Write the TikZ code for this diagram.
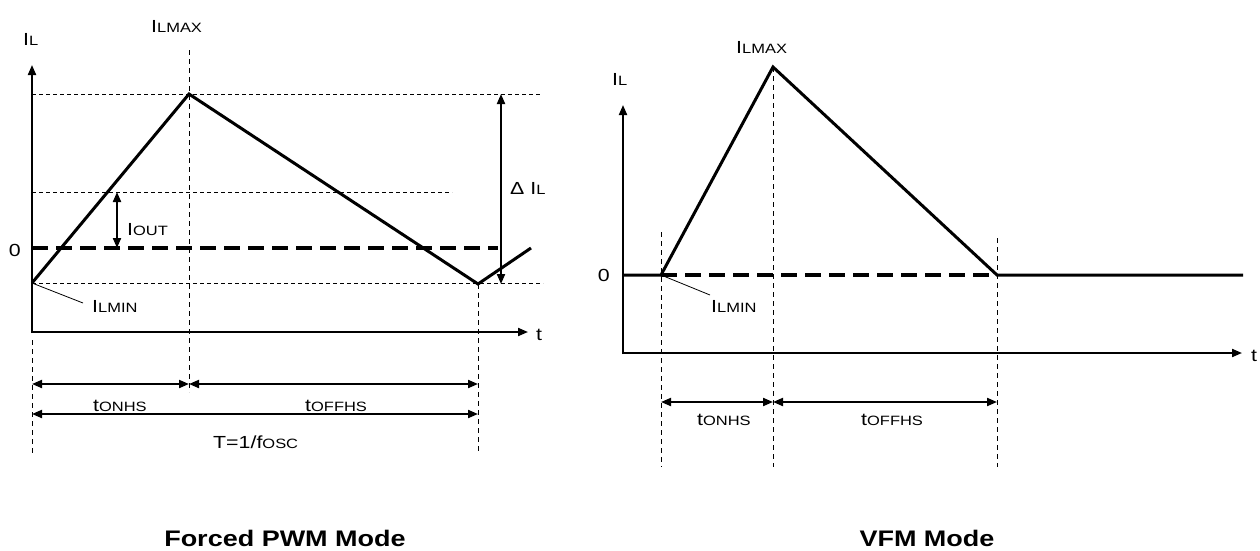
\documentclass[tikz,border=0pt]{standalone}
\usepackage{fontspec}
\setmainfont{Liberation Sans}
\usetikzlibrary{arrows.meta}
\newcommand\mainsz{\fontsize{17.5}{17.5}\selectfont}
\newcommand\subsz{\fontsize{13.5}{13.5}\selectfont}
\newcommand\lb[2]{\scalebox{1.22}[1]{{\mainsz #1}{\subsz #2}}}
\newcommand\ttl[1]{\scalebox{1.2}[1]{#1}}
\tikzset{
  wave/.style={line width=3pt, line join=miter},
  axis/.style={line width=2pt, -{Triangle[length=10pt,width=8pt]}},
  guide/.style={line width=0.9pt, dash pattern=on 4pt off 3pt},
  vguide/.style={line width=1pt, dash pattern=on 5pt off 4pt},
  zeroline/.style={line width=3.5pt, dash pattern=on 16pt off 8pt},
  dim/.style={line width=2pt, {Triangle[length=10pt,width=8pt]}-{Triangle[length=10pt,width=8pt]}},
  leader/.style={line width=0.8pt},
  lbl/.style={inner sep=0pt, anchor=base west},
  title/.style={inner sep=0pt, anchor=base, font=\bfseries\fontsize{22.5}{22.5}\selectfont}
}
\begin{document}
\begin{tikzpicture}[x=1pt,y=-1pt]
\useasboundingbox (0,0) rectangle (1260,550);
% ---------- Left: Forced PWM ----------
\coordinate (ya0) at (32,333);
\coordinate (ya1) at (32,65);
\coordinate (xa0) at (31,332);
\coordinate (xa1) at (528,332);
\coordinate (pmin) at (32,283);
\coordinate (pmax) at (189,94);
\coordinate (pmin2) at (478,284);
\coordinate (pend) at (531,248);
% guides
\coordinate (gt0) at (32,94);   \coordinate (gt1) at (542,94);
\coordinate (go0) at (32,192);  \coordinate (go1) at (452,192);
\coordinate (gm0) at (32,283);  \coordinate (gm1) at (543,283);
\coordinate (gz0) at (32,248);  \coordinate (gz1) at (498,248);
\coordinate (v1a) at (189,50);  \coordinate (v1b) at (189,392);
\coordinate (v0a) at (32,340);  \coordinate (v0b) at (32,453);
\coordinate (v2a) at (478,284); \coordinate (v2b) at (478,452);
\draw[guide] (gt0) -- (gt1);
\draw[guide] (go0) -- (go1);
\draw[guide] (gm0) -- (gm1);
\draw[zeroline] (gz0) -- (gz1);
\draw[vguide] (v1a) -- (v1b);
\draw[vguide] (v0a) -- (v0b);
\draw[vguide] (v2a) -- (v2b);
\draw[axis] (ya0) -- (ya1);
\draw[axis] (xa0) -- (xa1);
\draw[wave] (pmin) -- (pmax) -- (pmin2) -- (pend);
% dimension arrows
\coordinate (io0) at (117,192); \coordinate (io1) at (117,248);
\draw[dim] (io0) -- (io1);
\coordinate (dl0) at (501,94); \coordinate (dl1) at (501,284);
\draw[dim] (dl0) -- (dl1);
\coordinate (ld1) at (83,303);
\draw[leader] (pmin) -- (ld1);
\coordinate (b1a) at (32,384); \coordinate (b1b) at (189,384); \coordinate (b1c) at (478,384);
\coordinate (b2a) at (32,414); \coordinate (b2b) at (478,414);
\draw[dim] (b1a) -- (b1b);
\draw[dim] (b1b) -- (b1c);
\draw[dim] (b2a) -- (b2b);
% labels
\node[lbl] (lIL) at (23,45) {\lb{I}{L}};
\node[lbl] (lMAX) at (151,32) {\lb{I}{LMAX}};
\node[inner sep=0pt, anchor=base east] (l0) at (21,256) {\lb{0}{}};
\node[lbl] (lOUT) at (127,235) {\lb{I}{OUT}};
\node[lbl] (lMIN) at (92,312) {\lb{I}{LMIN}};
\node[lbl] (lDIL) at (510,194) {\lb{Δ I}{L}};
\node[lbl] (lt) at (536,340) {\lb{t}{}};
\node[lbl] (lon) at (93,411) {\lb{t}{ONHS}};
\node[lbl] (loff) at (305,411) {\lb{t}{OFFHS}};
\node[lbl] (lT) at (213,448) {\lb{T=1/f}{OSC}};
\node[title] (tl) at (285,546) {\ttl{Forced PWM Mode}};
% ---------- Right: VFM ----------
\coordinate (rya0) at (623,354);
\coordinate (rya1) at (623,105);
\coordinate (rxa0) at (622,353);
\coordinate (rxa1) at (1242,353);
\coordinate (r0) at (623,275);
\coordinate (r1) at (661,275);
\coordinate (rmax) at (773,67);
\coordinate (r2) at (997,275);
\coordinate (r3) at (1243,275);
\coordinate (w1a) at (661,232); \coordinate (w1b) at (661,467);
\coordinate (w2a) at (773,67);  \coordinate (w2b) at (773,467);
\coordinate (w3a) at (997,238); \coordinate (w3b) at (997,467);
\draw[vguide] (w1a) -- (w1b);
\draw[vguide] (w2a) -- (w2b);
\draw[vguide] (w3a) -- (w3b);
\draw[zeroline] (r1) -- (r2);
\draw[axis] (rya0) -- (rya1);
\draw[axis] (rxa0) -- (rxa1);
\draw[wave] (r0) -- (r1) -- (rmax) -- (r2) -- (r3);
\coordinate (rld) at (710,295);
\draw[leader] (r1) -- (rld);
\coordinate (rb1) at (661,402); \coordinate (rb2) at (773,402); \coordinate (rb3) at (997,402);
\draw[dim] (rb1) -- (rb2);
\draw[dim] (rb2) -- (rb3);
\node[lbl] (rIL) at (612,85) {\lb{I}{L}};
\node[lbl] (rMAX) at (736,53) {\lb{I}{LMAX}};
\node[inner sep=0pt, anchor=base east] (r0l) at (610,281) {\lb{0}{}};
\node[lbl] (rMIN) at (711,312) {\lb{I}{LMIN}};
\node[lbl] (rt) at (1251,361) {\lb{t}{}};
\node[lbl] (ron) at (697,425) {\lb{t}{ONHS}};
\node[lbl] (roff) at (861,425) {\lb{t}{OFFHS}};
\node[title] (tr) at (927,546) {\ttl{VFM Mode}};
\end{tikzpicture}
\end{document}
